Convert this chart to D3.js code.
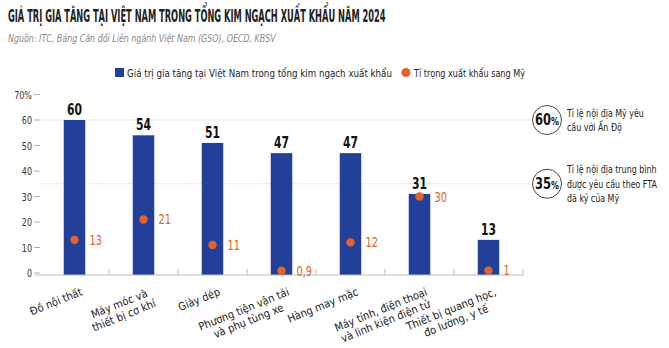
<!DOCTYPE html>
<html>
<head>
<meta charset="utf-8">
<script src="https://cdn.jsdelivr.net/npm/d3@7"></script>
<style>
  body { margin: 0; background: #fff; }
  text { font-family: "Liberation Sans Narrow", "DejaVu Sans Condensed", "Roboto", sans-serif; }
</style>
</head>
<body>
<div id="vis"></div>
<script>
// du lieu
const categories = [
  ["Đồ nội thất"],
  ["Máy móc và", "thiết bị cơ khí"],
  ["Giày dép"],
  ["Phương tiện vận tải", "và phụ tùng xe"],
  ["Hàng may mặc"],
  ["Máy tính, điện thoại", "và linh kiện điện tử"],
  ["Thiết bị quang học,", "đo lường, y tế"]
];
const giaTri = [60, 54, 51, 47, 47, 31, 13];
const tiTrong = [13, 21, 11, 0.9, 12, 30, 1];
const tiTrongLabel = ["13", "21", "11", "0,9", "12", "30", "1"];
const yTicks = [0, 10, 20, 30, 40, 50, 60, 70];
const refValues = [60, 35];
const refLabels = ["60", "35"];
const refTexts = [
  ["Tỉ lệ nội địa Mỹ yêu", "cầu với Ấn Độ"],
  ["Tỉ lệ nội địa trung bình", "được yêu cầu theo FTA", "đã ký của Mỹ"]
];

const WIDTH = 669, HEIGHT = 348;
const BLUE = "#22409a", ORANGE = "#e5622b";

const svg = d3.select("#vis").append("svg")
  .attr("width", WIDTH).attr("height", HEIGHT);

// chu hep: dat text trong g co scale ngang
function narrowText(parent, px, py, k, str) {
  const g = parent.append("g").attr("transform", `translate(${px},${py}) scale(${k},1)`);
  return g.append("text").text(str);
}
// co chu theo do rong mong muon
function fitWidth(t, w) {
  const len = t.node().getComputedTextLength();
  const g = d3.select(t.node().parentNode);
  g.attr("transform", g.attr("transform").replace(/scale\([^)]*\)/, `scale(${w / len},1)`));
}

// tieu de
const title = narrowText(svg, 8, 22, 1, "GIÁ TRỊ GIA TĂNG TẠI VIỆT NAM TRONG TỔNG KIM NGẠCH XUẤT KHẨU NĂM 2024")
  .attr("font-size", 17).attr("font-weight", "bold").attr("fill", "#222");
fitWidth(title, 378);
const sub = narrowText(svg, 8, 42, 1, "Nguồn:  ITC, Bảng Cân đối Liên ngành Việt Nam (GSO), OECD, KBSV")
  .attr("font-size", 10).attr("font-style", "italic").attr("fill", "#888");
fitWidth(sub, 268);

const x = d3.scaleBand().domain(d3.range(categories.length)).range([40, 523]);
const y = d3.scaleLinear().domain([0, 70]).range([273, 94.5]);

const barW = 21.5;

// duong tham chieu
refValues.forEach((v, k) => {
  svg.append("line")
    .attr("x1", 40).attr("x2", 531)
    .attr("y1", y(v)).attr("y2", y(v))
    .attr("stroke", "#c8c8c8").attr("stroke-width", 0.8).attr("stroke-dasharray", "1,1");
  svg.append("circle")
    .attr("cx", 547).attr("cy", y(v)).attr("r", 14.5)
    .attr("fill", "#fff").attr("stroke", "#333").attr("stroke-width", 0.9);
  const t = narrowText(svg, 547, y(v) + 5, 0.8, null)
    .attr("text-anchor", "middle").attr("fill", "#111").attr("font-weight", "bold");
  t.append("tspan").attr("font-size", 16).text(refLabels[k]);
  t.append("tspan").attr("font-size", 11).text("%");
  const lines = refTexts[k];
  const n = lines.length;
  lines.forEach((line, i) => {
    narrowText(svg, 567, y(v) + 4 + (i - (n - 1) / 2) * 14.5, 0.8, line)
      .attr("font-size", 11).attr("fill", "#222");
  });
});

// truc y
const yAxis = svg.append("g");
yTicks.forEach(v => {
  yAxis.append("line")
    .attr("x1", 34).attr("x2", 40).attr("y1", y(v)).attr("y2", y(v))
    .attr("stroke", "#999").attr("stroke-width", 0.8);
  narrowText(yAxis, 32, y(v) + 4, 0.85, v === 70 ? "70%" : v)
    .attr("text-anchor", "end").attr("font-size", 10.5).attr("fill", "#333");
});

// cot
svg.selectAll(".bar").data(giaTri).join("rect")
  .attr("class", "bar")
  .attr("x", (d, i) => x(i) + x.bandwidth() / 2 - barW / 2)
  .attr("y", d => y(d))
  .attr("width", barW)
  .attr("height", d => y(0) + 2 - y(d))
  .attr("fill", BLUE);

svg.selectAll(".barLabel").data(giaTri).join("g")
  .attr("class", "barLabel")
  .attr("transform", (d, i) => `translate(${x(i) + x.bandwidth() / 2},${y(d) - 5}) scale(0.8,1)`)
  .append("text")
  .attr("text-anchor", "middle").attr("font-size", 15).attr("font-weight", "bold").attr("fill", "#111")
  .text(d => d);

// duong day
svg.append("line")
  .attr("x1", 35).attr("x2", 523).attr("y1", y(0) + 2).attr("y2", y(0) + 2)
  .attr("stroke", "#bbb").attr("stroke-width", 1);
d3.range(1, categories.length + 1).forEach(i => {
  const xx = i === categories.length ? 523 : x(i);
  svg.append("line")
    .attr("x1", xx).attr("x2", xx).attr("y1", y(0) - 4).attr("y2", y(0) + 2)
    .attr("stroke", "#bbb").attr("stroke-width", 1);
});

// cham
svg.selectAll(".dot").data(tiTrong).join("circle")
  .attr("class", "dot")
  .attr("cx", (d, i) => x(i) + x.bandwidth() / 2)
  .attr("cy", d => y(d))
  .attr("r", 4.2)
  .attr("fill", ORANGE);

svg.selectAll(".dotLabel").data(tiTrong).join("g")
  .attr("class", "dotLabel")
  .attr("transform", (d, i) => `translate(${x(i) + x.bandwidth() / 2 + 15},${y(d) + 5}) scale(0.78,1)`)
  .append("text")
  .attr("font-size", 14).attr("fill", ORANGE)
  .text((d, i) => tiTrongLabel[i]);

// nhan truc x
categories.forEach((lines, i) => {
  const g = svg.append("g")
    .attr("transform", `translate(${x(i) + x.bandwidth() / 2 + 7},${291}) rotate(-22)`);
  const texts = lines.map((l, j) => g.append("text")
    .attr("y", j * 12.5 + 4)
    .attr("text-anchor", "middle").attr("font-size", 11).attr("fill", "#222")
    .text(l));
  const maxW = d3.max(texts, t => t.node().getComputedTextLength());
  texts.forEach(t => t.attr("x", -maxW / 2));
});

// chu thich
svg.append("rect").attr("x", 115).attr("y", 68).attr("width", 9).attr("height", 9).attr("fill", BLUE);
const leg1 = narrowText(svg, 127, 76.5, 1, "Giá trị gia tăng tại Việt Nam trong tổng kim ngạch xuất khẩu")
  .attr("font-size", 11).attr("fill", "#222");
fitWidth(leg1, 265);
svg.append("circle").attr("cx", 406).attr("cy", 72.5).attr("r", 4.5).attr("fill", ORANGE);
const leg2 = narrowText(svg, 414, 76.5, 1, "Tỉ trọng xuất khẩu sang Mỹ")
  .attr("font-size", 11).attr("fill", "#222");
fitWidth(leg2, 111);
</script>
</body>
</html>
